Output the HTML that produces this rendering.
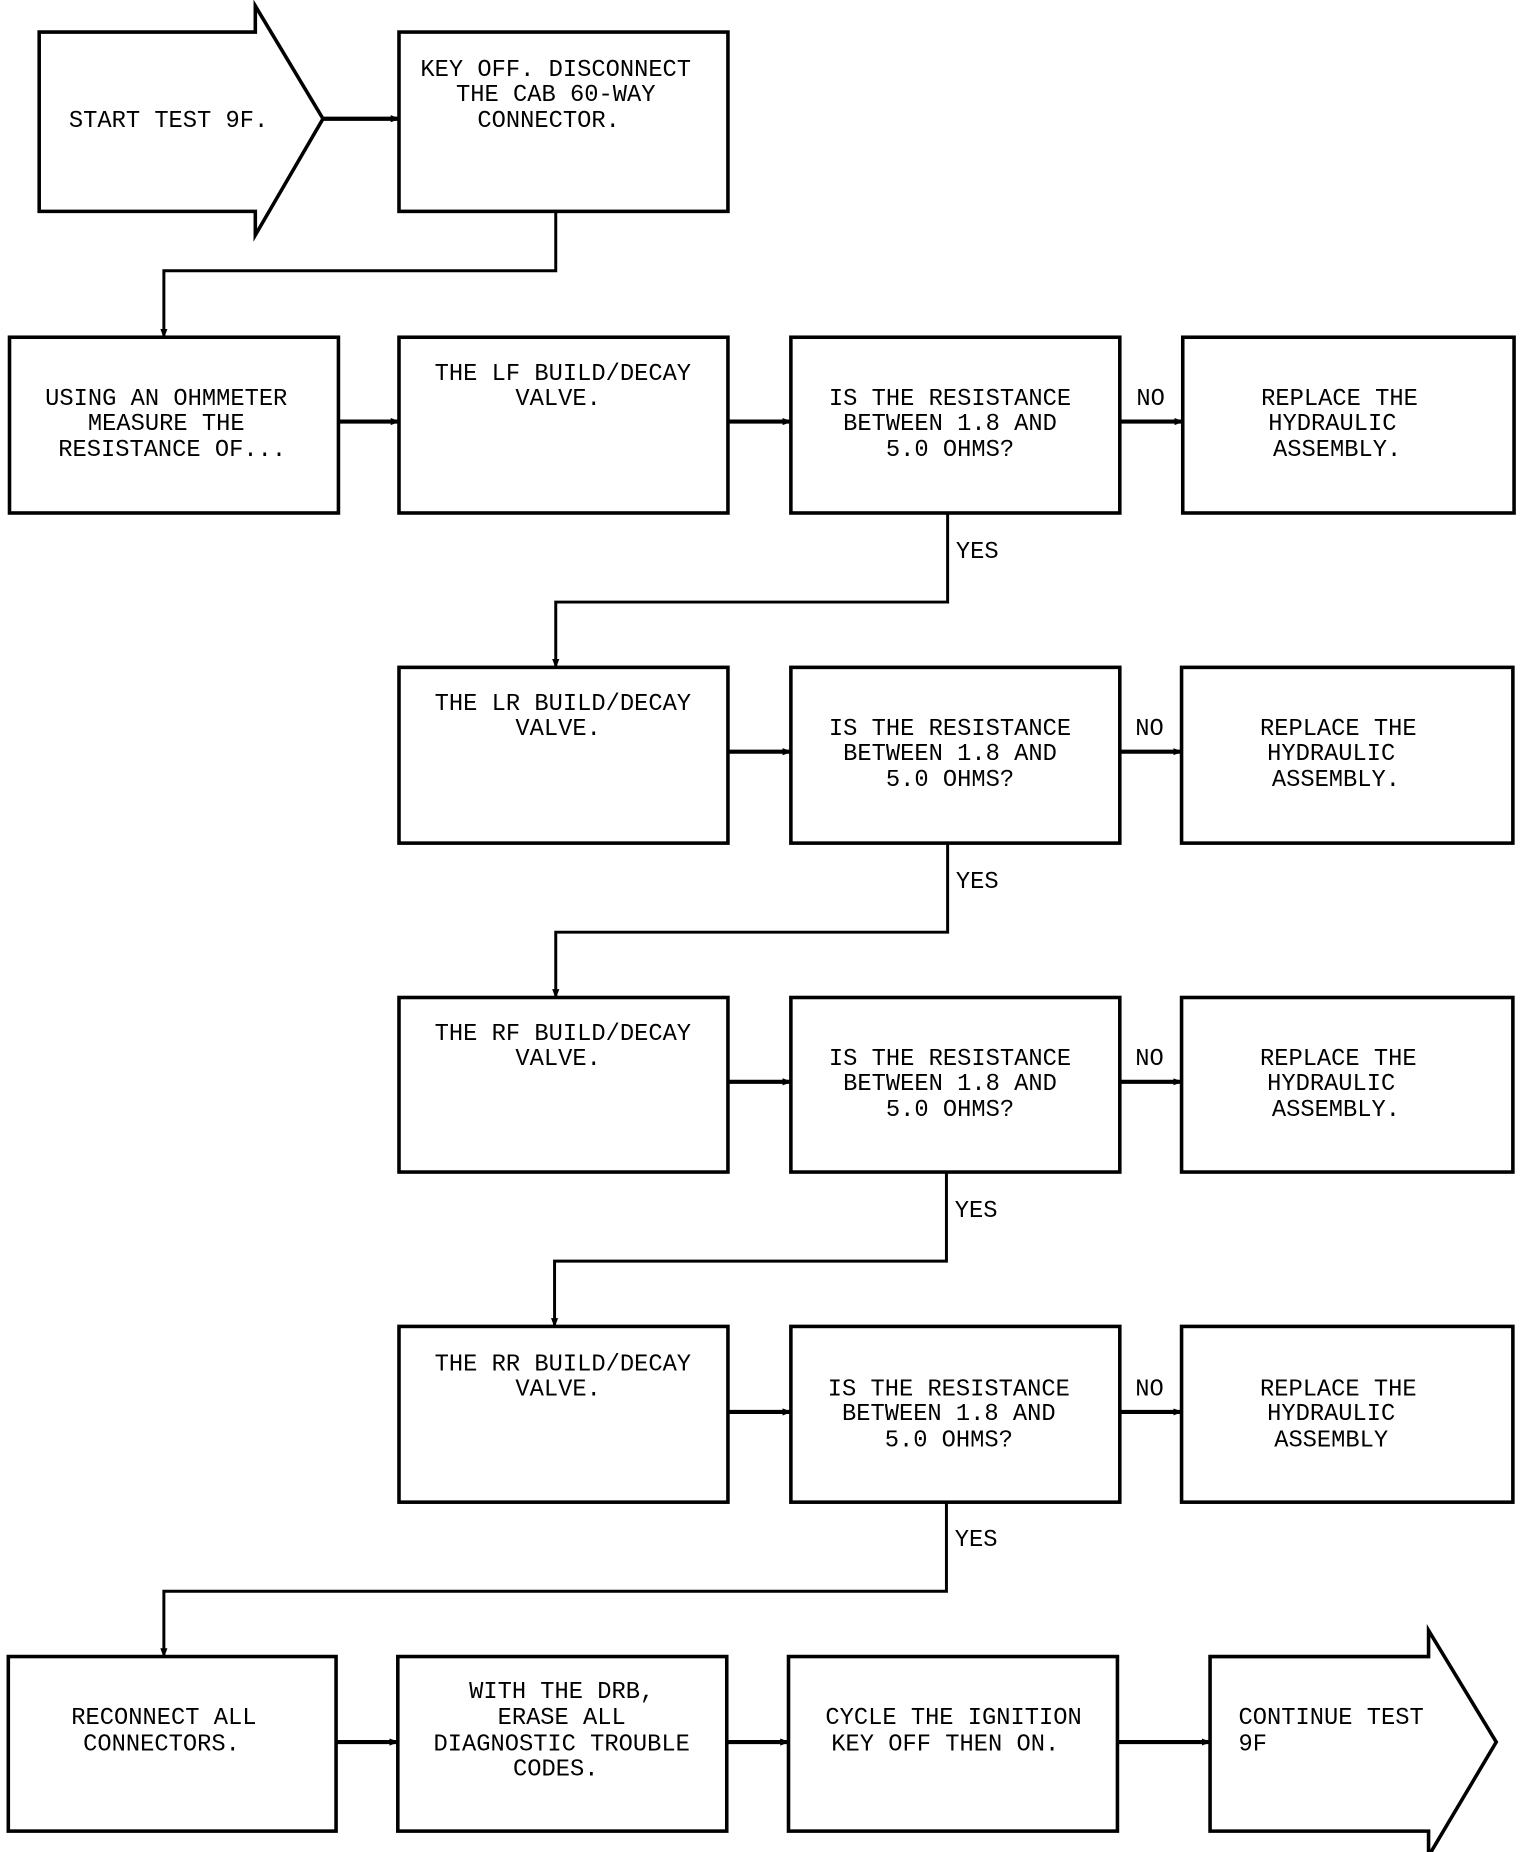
<!DOCTYPE html>
<html><head><meta charset="utf-8"><style>
html,body{margin:0;padding:0;background:#fff;}
svg{display:block;}
text{font-family:"Liberation Mono",monospace;font-size:20px;fill:#000;}
</style></head><body>
<svg width="1520" height="1852" viewBox="0 0 1280 1559.6" preserveAspectRatio="none" xmlns="http://www.w3.org/2000/svg">
<defs>
<marker id="a" markerWidth="8" markerHeight="8" refX="7" refY="4" orient="auto" markerUnits="userSpaceOnUse"><path d="M0,1 L8,4 L0,7 z" fill="#000"/></marker>
</defs>
<g fill="none" stroke="#000" stroke-width="3">
<!-- start arrow -->
<path d="M33,27 H215 V5 L272,100 L215,198 V178 H33 Z"/>
<rect x="336" y="27" width="277" height="151"/>
<!-- row1 -->
<rect x="8" y="284" width="277" height="148"/>
<rect x="336" y="284" width="277" height="148"/>
<rect x="666" y="284" width="277" height="148"/>
<rect x="996" y="284" width="279" height="148"/>
<!-- row2 -->
<rect x="336" y="562" width="277" height="148"/>
<rect x="666" y="562" width="277" height="148"/>
<rect x="995" y="562" width="279" height="148"/>
<!-- row3 -->
<rect x="336" y="840" width="277" height="147"/>
<rect x="666" y="840" width="277" height="147"/>
<rect x="995" y="840" width="279" height="147"/>
<!-- row4 -->
<rect x="336" y="1117" width="277" height="148"/>
<rect x="666" y="1117" width="277" height="148"/>
<rect x="995" y="1117" width="279" height="148"/>
<!-- row5 -->
<rect x="7" y="1395" width="276" height="147"/>
<rect x="335" y="1395" width="277" height="147"/>
<rect x="664" y="1395" width="277" height="147"/>
<path d="M1019,1395 H1203 V1373 L1260,1467 L1203,1563 V1542 H1019 Z"/>
</g>
<g fill="none" stroke="#000" stroke-width="3.5" marker-end="url(#a)">
<line x1="272" y1="100" x2="336" y2="100"/>
<line x1="285" y1="355" x2="336" y2="355"/>
<line x1="613" y1="355" x2="666" y2="355"/>
<line x1="943" y1="355" x2="996" y2="355"/>
<line x1="613" y1="633" x2="666" y2="633"/>
<line x1="943" y1="633" x2="995" y2="633"/>
<line x1="613" y1="911" x2="666" y2="911"/>
<line x1="943" y1="911" x2="995" y2="911"/>
<line x1="613" y1="1189" x2="666" y2="1189"/>
<line x1="943" y1="1189" x2="995" y2="1189"/>
<line x1="283" y1="1467" x2="335" y2="1467"/>
<line x1="612" y1="1467" x2="664" y2="1467"/>
<line x1="941" y1="1467" x2="1019" y2="1467"/>
</g>
<g fill="none" stroke="#000" stroke-width="2.5" marker-end="url(#a)">
<path d="M468,178 V228 H138 V284"/>
<path d="M798,432 V507 H468 V562"/>
<path d="M798,710 V785 H468 V840"/>
<path d="M797,987 V1062 H467 V1117"/>
<path d="M797,1265 V1340 H138 V1395"/>
</g>
<g>
<text x="58" y="107">START TEST 9F.</text>
<g text-anchor="middle">
<text x="468" y="64">KEY OFF. DISCONNECT</text>
<text x="468" y="85">THE CAB 60-WAY</text>
<text x="462" y="107">CONNECTOR.</text>
<text x="140" y="341">USING AN OHMMETER</text>
<text x="140" y="362">MEASURE THE</text>
<text x="145" y="384">RESISTANCE OF...</text>
<text x="474" y="320">THE LF BUILD/DECAY</text>
<text x="470" y="341">VALVE.</text>
<text x="800" y="341">IS THE RESISTANCE</text>
<text x="800" y="362">BETWEEN 1.8 AND</text>
<text x="800" y="384">5.0 OHMS?</text>
<text x="1128" y="341">REPLACE THE</text>
<text x="1122" y="362">HYDRAULIC</text>
<text x="1126" y="384">ASSEMBLY.</text>

<text x="474" y="598">THE LR BUILD/DECAY</text>
<text x="470" y="619">VALVE.</text>
<text x="800" y="619">IS THE RESISTANCE</text>
<text x="800" y="640">BETWEEN 1.8 AND</text>
<text x="800" y="662">5.0 OHMS?</text>
<text x="1127" y="619">REPLACE THE</text>
<text x="1121" y="640">HYDRAULIC</text>
<text x="1125" y="662">ASSEMBLY.</text>

<text x="474" y="876">THE RF BUILD/DECAY</text>
<text x="470" y="897">VALVE.</text>
<text x="800" y="897">IS THE RESISTANCE</text>
<text x="800" y="918">BETWEEN 1.8 AND</text>
<text x="800" y="940">5.0 OHMS?</text>
<text x="1127" y="897">REPLACE THE</text>
<text x="1121" y="918">HYDRAULIC</text>
<text x="1125" y="940">ASSEMBLY.</text>

<text x="474" y="1154">THE RR BUILD/DECAY</text>
<text x="470" y="1175">VALVE.</text>
<text x="799" y="1175">IS THE RESISTANCE</text>
<text x="799" y="1196">BETWEEN 1.8 AND</text>
<text x="799" y="1218">5.0 OHMS?</text>
<text x="1127" y="1175">REPLACE THE</text>
<text x="1121" y="1196">HYDRAULIC</text>
<text x="1121" y="1218">ASSEMBLY</text>

<text x="138" y="1452">RECONNECT ALL</text>
<text x="136" y="1474">CONNECTORS.</text>
<text x="473" y="1430">WITH THE DRB,</text>
<text x="473" y="1452">ERASE ALL</text>
<text x="473" y="1474">DIAGNOSTIC TROUBLE</text>
<text x="468" y="1495">CODES.</text>
<text x="803" y="1452">CYCLE THE IGNITION</text>
<text x="796" y="1474">KEY OFF THEN ON.</text>
</g>
<text x="1043" y="1452">CONTINUE TEST</text>
<text x="1043" y="1474">9F</text>
<text x="957" y="341">NO</text>
<text x="956" y="619">NO</text>
<text x="956" y="897">NO</text>
<text x="956" y="1175">NO</text>
<text x="805" y="470">YES</text>
<text x="805" y="748">YES</text>
<text x="804" y="1025">YES</text>
<text x="804" y="1302">YES</text>
</g>
</svg>
</body></html>
